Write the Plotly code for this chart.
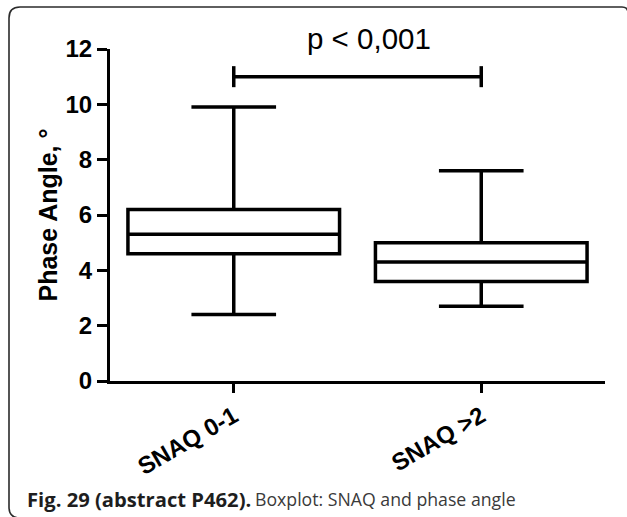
import plotly.graph_objects as go

# Box summary statistics for phase angle by SNAQ group
groups = ["SNAQ 0-1", "SNAQ >2"]
whisker_low = [2.4, 2.7]
q1 = [4.6, 3.6]
median = [5.3, 4.3]
q3 = [6.2, 5.0]
whisker_high = [9.9, 7.6]

# Significance bracket between the two groups
bracket_y = 11.0
bracket_cap = 0.38
p_label = "p < 0,001"

y_ticks = [0, 2, 4, 6, 8, 10, 12]

W, H = 627, 517
L, R, T, B = 110, 22, 49, 136
PW, PH = W - L - R, H - T - B

AXIS_FONT = "Liberation Sans, Arial, sans-serif"
CAPTION_FONT = "Open Sans, Noto Sans, sans-serif"


def px(x):
    return (x - L) / PW


def py(y):
    return (H - B - y) / PH


fig = go.Figure()

fig.add_trace(go.Box(
    x=groups,
    q1=q1,
    median=median,
    q3=q3,
    lowerfence=whisker_low,
    upperfence=whisker_high,
    boxpoints=False,
    width=0.855,
    whiskerwidth=0.40,
    fillcolor="white",
    line=dict(color="black", width=3.5),
    showlegend=False,
    hoverinfo="skip",
))

# bracket: end caps plus the connecting bar
fig.add_trace(go.Scatter(
    x=[groups[0], groups[0], None, groups[0], groups[1], None, groups[1], groups[1]],
    y=[bracket_y - bracket_cap, bracket_y + bracket_cap, None,
       bracket_y, bracket_y, None,
       bracket_y - bracket_cap, bracket_y + bracket_cap],
    mode="lines",
    line=dict(color="black", width=3.5),
    cliponaxis=False,
    showlegend=False,
    hoverinfo="skip",
))

fig.add_annotation(
    x=0.545, y=py(38), xref="x", yref="paper",
    text=p_label, showarrow=False,
    xanchor="center", yanchor="middle",
    font=dict(family=AXIS_FONT, size=29.5, color="black"),
)

# caption below the chart
fig.add_annotation(
    x=px(25), y=py(498.5), xref="paper", yref="paper",
    text="<b>Fig. 29 (abstract P462).</b>", showarrow=False,
    xanchor="left", yanchor="middle",
    font=dict(family=CAPTION_FONT, size=20.2, color="#1e1e1e"),
)
fig.add_annotation(
    x=px(253), y=py(498.5), xref="paper", yref="paper",
    text="Boxplot: SNAQ and phase angle", showarrow=False,
    xanchor="left", yanchor="middle",
    font=dict(family=CAPTION_FONT, size=17.7, color="#3a3a3a"),
)

# rounded frame: left and top edges, running off the page on the right and bottom
fl, ft, fb, rad = 9, 7, 518, 11
frame_path = (
    f"M {px(40)},{py(fb)} L {px(fl + rad)},{py(fb)} "
    f"Q {px(fl)},{py(fb)} {px(fl)},{py(fb - rad)} "
    f"L {px(fl)},{py(ft + rad)} "
    f"Q {px(fl)},{py(ft)} {px(fl + rad)},{py(ft)} "
    f"L {px(622)},{py(ft)} Q {px(628)},{py(ft)} {px(628)},{py(ft + 6)}"
)
fig.add_shape(type="path", path=frame_path, xref="paper", yref="paper",
              line=dict(color="#2b2b2b", width=1.6), layer="below")

fig.update_layout(
    width=W, height=H,
    margin=dict(l=L, r=R, t=T, b=B, autoexpand=False),
    paper_bgcolor="white",
    plot_bgcolor="white",
    font=dict(family=AXIS_FONT, color="black"),
    xaxis=dict(
        type="category",
        range=[-0.5, 1.5],
        showline=True, linecolor="black", linewidth=3,
        ticks="outside", ticklen=9, tickwidth=3, tickcolor="black",
        tickangle=-30,
        tickfont=dict(family=AXIS_FONT, size=24, color="black", weight="bold"),
        showgrid=False, zeroline=False,
    ),
    yaxis=dict(
        range=[0, 12],
        tickvals=y_ticks,
        showline=True, linecolor="black", linewidth=3,
        ticks="outside", ticklen=10, tickwidth=3, tickcolor="black",
        tickfont=dict(family=AXIS_FONT, size=24, color="black", weight="bold"),
        showgrid=False, zeroline=False,
        title=dict(text="Phase Angle, °", standoff=1,
                   font=dict(family=AXIS_FONT, size=25, color="black", weight="bold")),
    ),
)

fig.write_html("out.html")
